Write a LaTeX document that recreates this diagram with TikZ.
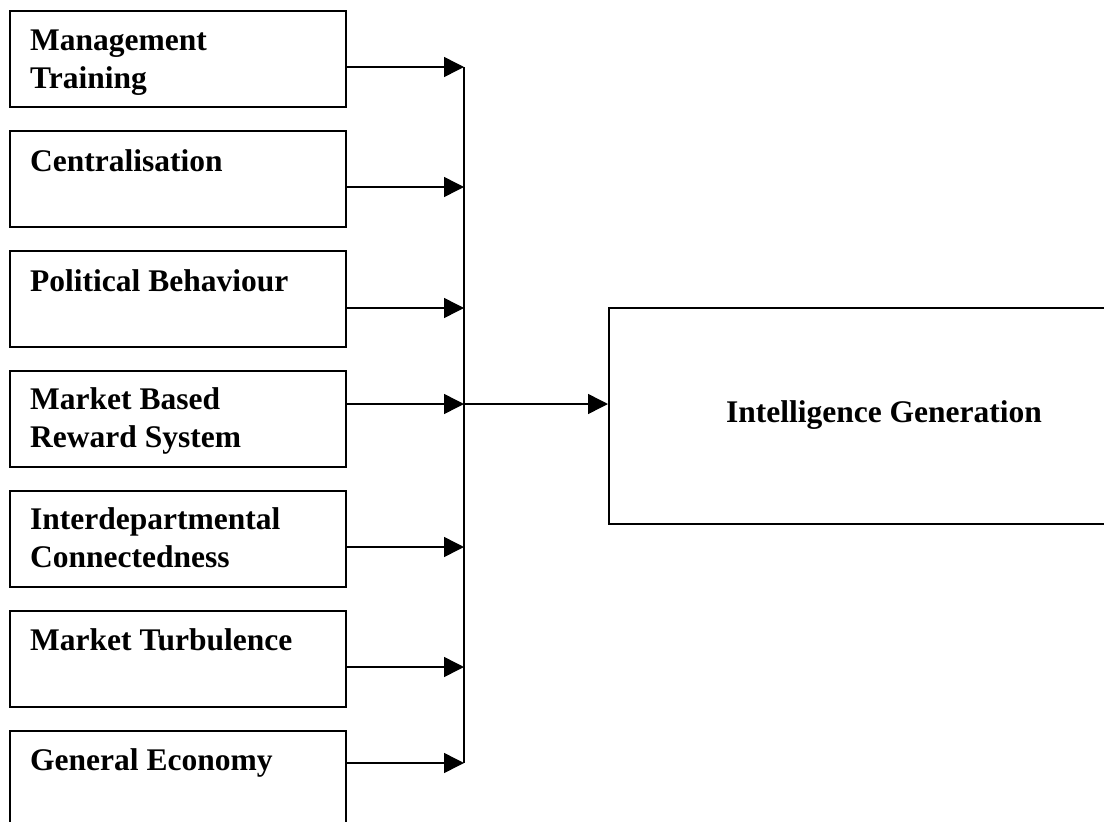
\documentclass[tikz,border=0pt]{standalone}
\usepackage{fontspec}
\setmainfont{Liberation Serif}
\usetikzlibrary{arrows.meta,calc}
\begin{document}
\begin{tikzpicture}[x=1pt,y=-1pt,
  factor/.style={draw,line width=2pt,minimum width=336pt,minimum height=96pt,
    inner sep=0pt,anchor=north west},
  outcome/.style={draw,line width=2pt,minimum width=552pt,minimum height=216pt,
    inner sep=0pt,anchor=north west},
  lbl/.style={anchor=base west,inner sep=0pt,align=left,
    font=\fontsize{31.5}{37.5}\selectfont\bfseries},
  link/.style={line width=1.5pt,-{Triangle[length=20pt,width=20pt]}},
  busline/.style={line width=1.5pt}]
\clip (0,0) rectangle (1104,822);
\fill[white] (0,0) rectangle (1104,822);

% factor boxes
\node[factor] (b1) at (9,10) {};
\node[factor] (b2) at (9,130) {};
\node[factor] (b3) at (9,250) {};
\node[factor] (b4) at (9,370) {};
\node[factor] (b5) at (9,490) {};
\node[factor] (b6) at (9,610) {};
\node[factor] (b7) at (9,730) {};

% labels (two-line labels are placed by the baseline of their last line)
\node[lbl] (t1) at ($(b1.north west)+(21,78)$) {Management\\Training};
\node[lbl] (t2) at ($(b2.north west)+(21,41)$) {Centralisation};
\node[lbl] (t3) at ($(b3.north west)+(21,41)$) {Political Behaviour};
\node[lbl] (t4) at ($(b4.north west)+(21,77)$) {Market Based\\Reward System};
\node[lbl] (t5) at ($(b5.north west)+(21,77)$) {Interdepartmental\\Connectedness};
\node[lbl] (t6) at ($(b6.north west)+(21,40)$) {Market Turbulence};
\node[lbl] (t7) at ($(b7.north west)+(21,40)$) {General Economy};

% outcome box
\node[outcome] (ig) at (608,307) {};
\node[anchor=base,inner sep=0pt,font=\fontsize{31.5}{37.5}\selectfont\bfseries]
  (tig) at (884,422) {Intelligence Generation};

% collecting bus
\coordinate (p1) at (464,67);
\coordinate (p2) at (464,187);
\coordinate (p3) at (464,308);
\coordinate (p4) at (464,404);
\coordinate (p5) at (464,547);
\coordinate (p6) at (464,667);
\coordinate (p7) at (464,763);
\draw[busline] (p1) -- (p7);

\draw[link] (b1.east |- p1) -- (p1);
\draw[link] (b2.east |- p2) -- (p2);
\draw[link] (b3.east |- p3) -- (p3);
\draw[link] (b4.east |- p4) -- (p4);
\draw[link] (b5.east |- p5) -- (p5);
\draw[link] (b6.east |- p6) -- (p6);
\draw[link] (b7.east |- p7) -- (p7);
\draw[link] (p4) -- (ig.west |- p4);
\end{tikzpicture}
\end{document}
